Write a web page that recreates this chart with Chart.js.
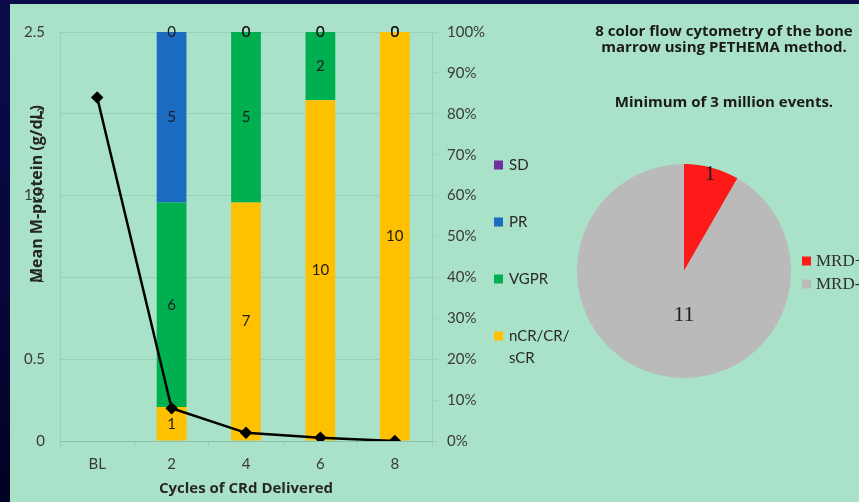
<!DOCTYPE html>
<html>
<head>
<meta charset="utf-8">
<title>CRd response and MRD</title>
<script src="https://cdn.jsdelivr.net/npm/chart.js@4.4.1/dist/chart.umd.min.js"></script>
<style>
  html, body { margin: 0; padding: 0; width: 859px; height: 502px; overflow: hidden; }
  body { position: relative; background: linear-gradient(180deg, #0b0b4c 0%, #07073c 55%, #010122 100%); }
  #panel { position: absolute; left: 10px; top: 4px; width: 849px; height: 498px; background: #a9e2c9; overflow: hidden; }
  #responses { position: absolute; left: 0; top: 0; }
  #mrd { position: absolute; left: 567px; top: 0; }
</style>
</head>
<body>
<div id="panel">
  <canvas id="responses" width="567" height="498"></canvas>
  <canvas id="mrd" width="294" height="498"></canvas>
</div>
<script>
// patients per response category at each assessment point
const cycles = ["BL", "2", "4", "6", "8"];
const nCR = [null, 1, 7, 10, 10];
const vgpr = [null, 6, 5, 2, 0];
const pr = [null, 5, 0, 0, 0];
const sd = [null, 0, 0, 0, 0];

// mean M-protein (g/dL)
const mProtein = [2.1, 0.2, 0.05, 0.02, 0.0];

const pctTicks = [0, 10, 20, 30, 40, 50, 60, 70, 80, 90, 100];
const mProteinTicks = [0, 0.5, 1, 1.5, 2, 2.5];

// flow cytometry MRD result
const mrdLabels = ["MRD+", "MRD-"];
const mrdCounts = [1, 11];
const mrdTitle = ["8 color flow cytometry of the bone", "marrow using PETHEMA method."];
const mrdNote = "Minimum of 3 million events.";

Chart.defaults.font.family = "Lato, 'Noto Sans', sans-serif";
Chart.defaults.color = "#3a3a3a";

const boldFont = "'Open Sans', Lato, sans-serif";

const totals = cycles.map((_, i) =>
  [nCR, vgpr, pr, sd].reduce((s, arr) => s + (arr[i] || 0), 0));
const toPct = arr => arr.map((v, i) => v === null ? null : v / totals[i] * 100);

const gridCol = "rgba(40, 90, 70, 0.13)";

// numbers inside each bar segment
const barLabels = {
  id: "barLabels",
  afterDatasetsDraw(chart) {
    const ctx = chart.ctx;
    ctx.save();
    ctx.font = "15px Lato";
    ctx.fillStyle = "#1c1c1c";
    ctx.textAlign = "center";
    ctx.textBaseline = "middle";
    chart.data.datasets.forEach((ds, di) => {
      if (ds.type === "line") return;
      chart.getDatasetMeta(di).data.forEach((el, i) => {
        const n = ds.counts[i];
        if (n === null || n === undefined) return;
        ctx.fillText(String(n), el.x, (el.y + el.base) / 2);
      });
    });
    ctx.restore();
  }
};

// legend column beside the percent axis, plus the rotated left title
const sideLegend = {
  id: "sideLegend",
  afterDraw(chart) {
    const ctx = chart.ctx;
    ctx.save();
    const bars = chart.data.datasets.filter(d => d.type !== "line").reverse();
    ctx.font = "15px Lato";
    ctx.textBaseline = "middle";
    ctx.textAlign = "left";
    bars.forEach((ds, k) => {
      const y = 161 + k * 57;
      ctx.fillStyle = ds.backgroundColor;
      ctx.fillRect(484, y - 4.5, 9, 9);
      ctx.fillStyle = "#2a2a2a";
      // wrap long labels after a slash
      const lines = [];
      let cur = "";
      ds.label.split(/(?<=\/)/).forEach(part => {
        if (cur && ctx.measureText(cur + part).width > 64) { lines.push(cur); cur = part; }
        else cur += part;
      });
      lines.push(cur);
      lines.forEach((t, j) => ctx.fillText(t, 499, y + j * 22));
    });

    ctx.translate(27, 190);
    ctx.rotate(-Math.PI / 2);
    ctx.font = "bold 16px " + boldFont;
    ctx.fillStyle = "#262626";
    ctx.textAlign = "center";
    ctx.fillText("Mean M-protein (g/dL)", 0, 0);
    ctx.restore();
  }
};

new Chart("responses", {
  type: "bar",
  data: {
    labels: cycles,
    datasets: [
      { type: "line", label: "Mean M-protein", data: mProtein, yAxisID: "y", order: 0,
        borderColor: "#000", backgroundColor: "#000", borderWidth: 2.5,
        pointStyle: "rectRot", pointRadius: 4.5, tension: 0 },
      { label: "nCR/CR/sCR", data: toPct(nCR), counts: nCR, backgroundColor: "#ffc000", yAxisID: "y1", order: 1 },
      { label: "VGPR", data: toPct(vgpr), counts: vgpr, backgroundColor: "#00b050", yAxisID: "y1", order: 1 },
      { label: "PR", data: toPct(pr), counts: pr, backgroundColor: "#1b6cc1", yAxisID: "y1", order: 1 },
      { label: "SD", data: toPct(sd), counts: sd, backgroundColor: "#7030a0", yAxisID: "y1", order: 1 }
    ]
  },
  options: {
    responsive: false,
    animation: false,
    categoryPercentage: 1,
    barPercentage: 0.4,
    layout: { padding: { top: 28, left: 0, right: 0, bottom: 0 } },
    plugins: { legend: { display: false }, tooltip: { enabled: false } },
    scales: {
      x: {
        stacked: true,
        offset: true,
        grid: { offset: true, drawOnChartArea: false, drawTicks: true, tickLength: 6, color: gridCol },
        border: { display: true, color: gridCol },
        ticks: { padding: 8, font: { size: 15 } },
        title: { display: true, text: "Cycles of CRd Delivered", color: "#262626",
                 font: { family: boldFont, size: 15, weight: "bold" }, padding: { top: 0, bottom: 4 } },
        afterFit(s) { s.height = 61; }
      },
      y: {
        position: "left",
        min: 0, max: 2.5,
        afterBuildTicks(s) { s.ticks = mProteinTicks.map(v => ({ value: v })); },
        ticks: { padding: 15, font: { size: 15 }, callback: v => String(v) },
        grid: { color: gridCol, drawTicks: false },
        border: { display: true, color: gridCol },
        afterFit(s) { s.width = 50; }
      },
      y1: {
        position: "right",
        stacked: true,
        min: 0, max: 100,
        afterBuildTicks(s) { s.ticks = pctTicks.map(v => ({ value: v })); },
        ticks: { padding: 10, font: { size: 15 }, callback: v => v + "%" },
        grid: { drawOnChartArea: false, drawTicks: true, tickLength: 5, color: gridCol },
        border: { display: true, color: gridCol },
        afterFit(s) { s.width = 145; }
      }
    }
  },
  plugins: [barLabels, sideLegend]
});

// heading, slice counts and the legend for the pie
const pieText = {
  id: "pieText",
  afterDraw(chart) {
    const ctx = chart.ctx;
    const meta = chart.getDatasetMeta(0);
    ctx.save();
    ctx.textAlign = "center";
    ctx.textBaseline = "middle";
    ctx.fillStyle = "#1a1a1a";
    ctx.font = "bold 15px " + boldFont;
    mrdTitle.forEach((t, i) => ctx.fillText(t, 147, 28 + i * 15.5));
    ctx.fillText(mrdNote, 147, 99);

    const fracs = [0.94, 0.41];
    ctx.font = "22px 'Liberation Serif'";
    ctx.fillStyle = "#1e1e1e";
    meta.data.forEach((arc, i) => {
      let a = (arc.startAngle + arc.endAngle) / 2;
      if (i === 1) a = Math.PI / 2;
      const r = arc.outerRadius * fracs[i];
      ctx.fillText(String(chart.data.datasets[0].data[i]), arc.x + Math.cos(a) * r, arc.y + Math.sin(a) * r);
    });
    ctx.font = "17px 'Liberation Serif'";
    ctx.textAlign = "left";
    chart.data.labels.forEach((lab, i) => {
      const y = 257 + i * 23;
      ctx.fillStyle = chart.data.datasets[0].backgroundColor[i];
      ctx.fillRect(225, y - 4.5, 9, 9);
      ctx.fillStyle = "#2e2e2e";
      ctx.fillText(lab, 239, y + 1);
    });
    ctx.restore();
  }
};

new Chart("mrd", {
  type: "pie",
  data: {
    labels: mrdLabels,
    datasets: [{ data: mrdCounts, backgroundColor: ["#ff1a1a", "#bababa"], borderWidth: 0, radius: 107 }]
  },
  options: {
    responsive: false,
    animation: false,
    layout: { padding: { top: 160, left: 0, right: 80, bottom: 124 } },
    plugins: {
      legend: { display: false },
      tooltip: { enabled: false }
    }
  },
  plugins: [pieText]
});
</script>
</body>
</html>
